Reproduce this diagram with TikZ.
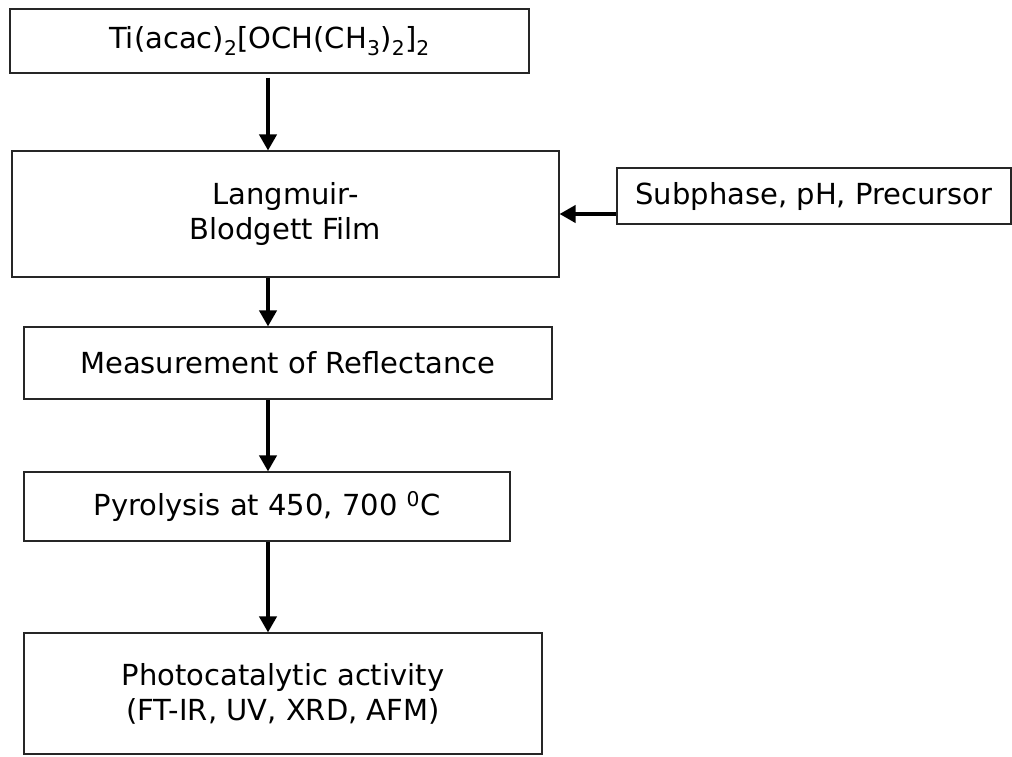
\documentclass[tikz,border=0pt]{standalone}
\usepackage{fontspec}
\setmainfont{DejaVu Sans}
\usetikzlibrary{arrows.meta}

\begin{document}
\begin{tikzpicture}[x=1pt, y=-1pt,
      stage/.style={draw=black!85, line width=1.1pt, align=center, inner sep=0pt,
          font=\fontsize{29}{35}\selectfont},
      flow/.style={line width=3.8pt, -{Triangle[length=16pt, width=17pt]}}
    ]
    \useasboundingbox (0,0) rectangle (1012,756);
    \coordinate (spine) at (268,0);

    \node (ti) [stage, minimum width=519pt, minimum height=64pt] at (269.5,41)
        {Ti(acac)\textsubscript{2}[OCH(CH\textsubscript{3})\textsubscript{2}]\textsubscript{2}};
    \node (lb) [stage, minimum width=547pt, minimum height=126pt] at (285.5,214)
        {Langmuir-\\Blodgett Film};
    \node (sub) [stage, minimum width=394pt, minimum height=56pt] at (814,196)
        {Subphase, pH, Precursor};
    \node (refl) [stage, minimum width=528pt, minimum height=72pt] at (288,363)
        {Measurement of Reflectance};
    \node (pyro) [stage, minimum width=486pt, minimum height=69pt] at (267,506.5)
        {Pyrolysis at 450, 700 \textsuperscript{0}C};
    \node (photo) [stage, minimum width=518pt, minimum height=121pt] at (283,693.5)
        {Photocatalytic activity\\(FT-IR, UV, XRD, AFM)};

    \draw[flow] ([yshift=-4pt]ti.south -| spine) -- (lb.north -| spine);
    \draw[flow] (lb.south -| spine) -- (refl.north -| spine);
    \draw[flow] (refl.south -| spine) -- (pyro.north -| spine);
    \draw[flow] (pyro.south -| spine) -- (photo.north -| spine);
    \draw[flow] (lb.east -| sub.west) -- (lb.east);

\end{tikzpicture}
\end{document}
